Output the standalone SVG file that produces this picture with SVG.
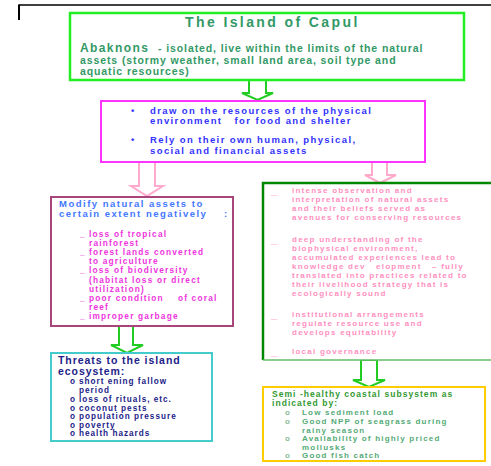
<svg xmlns="http://www.w3.org/2000/svg" width="491" height="466" viewBox="0 0 491 466">
<style>
text{font-family:"Liberation Sans",Arial,sans-serif;font-weight:bold}
.box{fill:#fff}
.arrow{fill:#fff;stroke-width:2;stroke-linejoin:miter}
.t0{font-size:14px;fill:#339966;letter-spacing:2.4px}
.t1{font-size:10.5px;fill:#339966;letter-spacing:0.9px}
.t2{font-size:9.5px;fill:#3333ff;letter-spacing:1.4px}
.t3{font-size:9.5px;fill:#4477ff;letter-spacing:1.5px}
.t4{font-size:8.3px;fill:#ee33dd;letter-spacing:1.2px}
.t5{font-size:8px;fill:#ff8fc0;letter-spacing:1.25px}
.t6{font-size:10.5px;fill:#222288;letter-spacing:0.95px}
.t7{font-size:8.2px;fill:#222288;letter-spacing:1px}
.t8{font-size:8.5px;fill:#339933;letter-spacing:1.05px}
.t9{font-size:8px;fill:#55aa77;letter-spacing:1.2px}
.dash{font-size:11px;fill:#ff8fc0}
.ob{font-size:8px;fill:#88bb99}
</style>
<rect width="491" height="466" fill="#fff"/>
<g id="frame">
<line x1="19" y1="5" x2="491" y2="5" stroke="#000" stroke-width="1.5"/>
<line x1="19" y1="4.5" x2="19" y2="20" stroke="#000" stroke-width="2"/>
</g>
<g id="connectors">
<polygon class="arrow" stroke="#22cc22" points="249,80 249,93 242,93 257.5,100 273,93 266,93 266,80"/>
<polygon class="arrow" stroke="#ffaacc" points="139,162 139,186 131,186 147,196 163,186 155,186 155,162"/>
<polygon class="arrow" stroke="#ffaacc" points="372,162 372,175 365,175 380,183 396,175 387,175 387,162"/>
<polygon class="arrow" stroke="#22cc22" points="119,326 119,345 111,345 127,353 143,345 133,345 133,326"/>
<polygon class="arrow" stroke="#22cc22" points="361,360 361,380 353,380 369,387 385,380 377,380 377,360"/>
</g>
<g id="capul">
<rect class="box" x="70" y="13" width="394" height="67" stroke="#22ee22" stroke-width="2.5"/>
<text class="t0" x="185" y="27">The Island of Capul</text>
<text x="80" y="52" style="font-size:12px;fill:#339966;letter-spacing:1.4px">Abaknons</text>
<text class="t1" x="158" y="52">- isolated, live within the limits of the natural</text>
<text class="t1" x="80" y="63.5">assets (stormy weather, small land area, soil type and</text>
<text class="t1" x="80" y="75">aquatic resources)</text>
</g>
<g id="resources">
<rect class="box" x="101" y="101" width="324" height="61" stroke="#ff33ff" stroke-width="2"/>
<text class="t2" x="131" y="114">•</text>
<text class="t2" x="150" y="114">draw on the resources of the physical</text>
<text class="t2" x="150" y="123.5" xml:space="preserve">environment   for food and shelter</text>
<text class="t2" x="131" y="143">•</text>
<text class="t2" x="150" y="143">Rely on their own human, physical,</text>
<text class="t2" x="150" y="154">social and financial assets</text>
</g>
<g id="modify">
<rect class="box" x="51" y="197" width="182" height="129" stroke="#a8457a" stroke-width="2"/>
<text class="t3" x="59" y="207">Modify natural assets to</text>
<text class="t3" x="59" y="217" xml:space="preserve">certain extent negatively    :</text>
<text class="t4" x="80" y="237">_</text><text class="t4" x="89" y="237">loss of tropical</text>
<text class="t4" x="89" y="246">rainforest</text>
<text class="t4" x="80" y="255">_</text><text class="t4" x="89" y="255">forest lands converted</text>
<text class="t4" x="89" y="264">to agriculture</text>
<text class="t4" x="80" y="273">_</text><text class="t4" x="89" y="273">loss of biodiversity</text>
<text class="t4" x="89" y="283">(habitat loss or direct</text>
<text class="t4" x="89" y="292">utilization)</text>
<text class="t4" x="80" y="301">_</text><text class="t4" x="89" y="301" xml:space="preserve">poor condition    of coral</text>
<text class="t4" x="89" y="309.5">reef</text>
<text class="t4" x="80" y="318.5">_</text><text class="t4" x="89" y="318.5">improper garbage</text>
</g>
<g id="threats">
<rect class="box" x="51" y="353" width="161" height="88" stroke="#44cccc" stroke-width="2"/>
<text class="t6" x="58" y="364">Threats to the island</text>
<text class="t6" x="58" y="374.5">ecosystem:</text>
<text class="t7" x="70" y="384">o</text><text class="t7" x="79" y="384">short ening fallow</text>
<text class="t7" x="79" y="393">period</text>
<text class="t7" x="70" y="402">o</text><text class="t7" x="79" y="402">loss of rituals, etc.</text>
<text class="t7" x="70" y="410.5">o</text><text class="t7" x="79" y="410.5">coconut pests</text>
<text class="t7" x="70" y="419">o</text><text class="t7" x="79" y="419">population pressure</text>
<text class="t7" x="70" y="427.5">o</text><text class="t7" x="79" y="427.5">poverty</text>
<text class="t7" x="70" y="436">o</text><text class="t7" x="79" y="436">health hazards</text>
</g>
<g id="practices">
<rect class="box" x="263" y="183" width="240" height="177" stroke="none"/>
<polyline points="263,360 263,183 491,183" fill="none" stroke="#008800" stroke-width="2.5"/>
<line x1="263" y1="360" x2="491" y2="360" stroke="#66bb66" stroke-width="1.5"/>
<text class="dash" x="271" y="194">_</text>
<text class="t5" x="292" y="193">intense observation and</text>
<text class="t5" x="292" y="202">interpretation of natural assets</text>
<text class="t5" x="292" y="211">and their beliefs served as</text>
<text class="t5" x="292" y="220">avenues for conserving resources</text>
<text class="dash" x="271" y="243">_</text>
<text class="t5" x="292" y="242">deep understanding of the</text>
<text class="t5" x="292" y="251">biophysical environment,</text>
<text class="t5" x="292" y="259.5">accumulated experiences lead to</text>
<text class="t5" x="292" y="268.5" xml:space="preserve">knowledge dev   elopment   – fully</text>
<text class="t5" x="292" y="277.5">translated into practices related to</text>
<text class="t5" x="292" y="286.5">their livelihood strategy that is</text>
<text class="t5" x="292" y="295.5">ecologically sound</text>
<text class="dash" x="271" y="318">_</text>
<text class="t5" x="292" y="317">institutional arrangements</text>
<text class="t5" x="292" y="325.5">regulate resource use and</text>
<text class="t5" x="292" y="334.5">develops equitability</text>
<text class="dash" x="271" y="355">_</text>
<text class="t5" x="292" y="354">local governance</text>
</g>
<g id="coastal">
<rect class="box" x="263" y="387" width="222" height="74" stroke="#ffcc00" stroke-width="2"/>
<text class="t8" x="272" y="397">Semi -healthy coastal subsystem as</text>
<text class="t8" x="272" y="406">indicated by:</text>
<text class="ob" x="285" y="415">o</text><text class="t9" x="302" y="415">Low sediment load</text>
<text class="ob" x="285" y="424">o</text><text class="t9" x="302" y="424">Good NPP of seagrass during</text>
<text class="t9" x="302" y="432.5">rainy season</text>
<text class="ob" x="285" y="441">o</text><text class="t9" x="302" y="441">Availability of highly priced</text>
<text class="t9" x="302" y="449.5">mollusks</text>
<text class="ob" x="285" y="458">o</text><text class="t9" x="302" y="458">Good fish catch</text>
</g>
</svg>
